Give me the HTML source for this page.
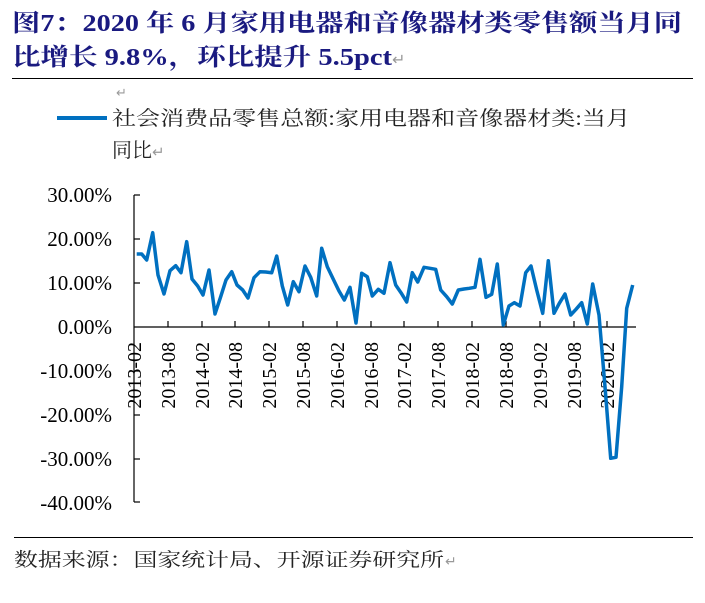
<!DOCTYPE html>
<html><head><meta charset="utf-8"><style>
body{margin:0;background:#fff;}
svg{display:block;}
</style></head><body>
<svg width="705" height="603" xmlns="http://www.w3.org/2000/svg">
<g font-family="'Liberation Serif','Noto Serif CJK SC',serif" font-weight="bold" fill="#1a1a80" font-size="24">
<text x="12" y="31" textLength="670" lengthAdjust="spacingAndGlyphs">图7：2020 年 6 月家用电器和音像器材类零售额当月同</text>
<text x="12" y="65" textLength="380" lengthAdjust="spacingAndGlyphs">比增长 9.8%，环比提升 5.5pct</text>
</g>
<text x="392" y="65" font-size="16" fill="#999" font-family="'DejaVu Sans',sans-serif">↵</text>
<line x1="12" y1="78.5" x2="693" y2="78.5" stroke="#000" stroke-width="1"/>
<text x="116" y="97" font-size="13" fill="#999" font-family="'DejaVu Sans',sans-serif">↵</text>
<line x1="57" y1="118" x2="107" y2="118" stroke="#0070c0" stroke-width="4"/>
<g font-family="'Liberation Serif','Noto Serif CJK SC',serif" font-size="20" fill="#222">
<text x="112" y="125" textLength="518" lengthAdjust="spacingAndGlyphs">社会消费品零售总额:家用电器和音像器材类:当月</text>
<text x="112" y="157">同比<tspan fill="#999" font-size="15">↵</tspan></text>
</g>
<g font-family="'Liberation Serif',serif" font-size="21" fill="#000" text-anchor="end">
<text x="112" y="202">30.00%</text>
<text x="112" y="246">20.00%</text>
<text x="112" y="290">10.00%</text>
<text x="112" y="334">0.00%</text>
<text x="112" y="378">-10.00%</text>
<text x="112" y="422">-20.00%</text>
<text x="112" y="466">-30.00%</text>
<text x="112" y="510">-40.00%</text>
</g>
<g stroke="#000" stroke-width="1.2">
<line x1="134" y1="195" x2="134" y2="502"/>
<line x1="134" y1="195" x2="140" y2="195"/>
<line x1="134" y1="239" x2="140" y2="239"/>
<line x1="134" y1="283" x2="140" y2="283"/>
<line x1="134" y1="371" x2="140" y2="371"/>
<line x1="134" y1="415" x2="140" y2="415"/>
<line x1="134" y1="459" x2="140" y2="459"/>
<line x1="134" y1="502" x2="140" y2="502"/>
<line x1="134" y1="327" x2="636" y2="327"/>
<line x1="168" y1="321" x2="168" y2="327"/><line x1="202" y1="321" x2="202" y2="327"/>
<line x1="235" y1="321" x2="235" y2="327"/><line x1="269" y1="321" x2="269" y2="327"/>
<line x1="303" y1="321" x2="303" y2="327"/><line x1="337" y1="321" x2="337" y2="327"/>
<line x1="371" y1="321" x2="371" y2="327"/><line x1="404" y1="321" x2="404" y2="327"/>
<line x1="438" y1="321" x2="438" y2="327"/><line x1="472" y1="321" x2="472" y2="327"/>
<line x1="506" y1="321" x2="506" y2="327"/><line x1="540" y1="321" x2="540" y2="327"/>
<line x1="574" y1="321" x2="574" y2="327"/><line x1="607" y1="321" x2="607" y2="327"/>
</g>
<g font-family="'Liberation Serif',serif" font-size="20" fill="#000" text-anchor="end">
<text transform="translate(141,342) rotate(-90)">2013-02</text>
<text transform="translate(175,342) rotate(-90)">2013-08</text>
<text transform="translate(209,342) rotate(-90)">2014-02</text>
<text transform="translate(242,342) rotate(-90)">2014-08</text>
<text transform="translate(276,342) rotate(-90)">2015-02</text>
<text transform="translate(310,342) rotate(-90)">2015-08</text>
<text transform="translate(344,342) rotate(-90)">2016-02</text>
<text transform="translate(378,342) rotate(-90)">2016-08</text>
<text transform="translate(411,342) rotate(-90)">2017-02</text>
<text transform="translate(445,342) rotate(-90)">2017-08</text>
<text transform="translate(479,342) rotate(-90)">2018-02</text>
<text transform="translate(513,342) rotate(-90)">2018-08</text>
<text transform="translate(547,342) rotate(-90)">2019-02</text>
<text transform="translate(581,342) rotate(-90)">2019-08</text>
<text transform="translate(614,342) rotate(-90)">2020-02</text>
</g>
<polyline fill="none" stroke="#0070c0" stroke-width="3.5" stroke-linejoin="round" points="136.7,254 141.7,254 146.7,260 152.7,232.7 158,275 164,294 170,270.7 175.7,265.7 181,272.7 186.7,241.7 192,279 197.7,286 203,295 209,270 215,314 220.7,296.7 226,280 231.7,271.7 237,285 242.7,290 248,298 254,277.7 260,271.7 265.7,272 271.7,272.7 276.7,256 282.3,286 287.7,305 293.3,281.7 299,291.7 305,266 310.7,277.3 316.7,296 321.7,248.3 327.3,266.7 333.3,279.3 339,291 344.3,300 350,287.3 356,323 361.7,273.3 367.3,276.7 372.3,296 378.3,289.3 384,293.3 390,262.7 395.7,285 401,292.7 406.7,302 412.3,272.7 417.7,282 424,267.3 430,268.3 435.7,269.3 440.7,290 446.7,296.7 452.3,304 458.3,290 464,289 469.3,288.3 475,287.3 480,259.3 486,297.3 491.7,294.3 497.3,264 503.3,325 509,306 514.3,302.7 520,306 525.7,272.7 531,266 536.7,290 542.7,313.3 548.3,260.7 554,313.3 559.3,303.3 565,294 570.7,315 576,309.3 581.7,302.7 587.3,324 592.7,284 599,315 605,386.7 610.7,458.3 616,457.3 621.7,386.7 626.7,308.3 632.7,285"/>
<line x1="14" y1="537.5" x2="693" y2="537.5" stroke="#000" stroke-width="1"/>
<text x="14" y="566" font-family="'Liberation Serif','Noto Serif CJK SC',serif" font-size="19" fill="#222" textLength="430" lengthAdjust="spacingAndGlyphs">数据来源：国家统计局、开源证券研究所</text>
<text x="445" y="566" font-size="14" fill="#999" font-family="'DejaVu Sans',sans-serif">↵</text>
</svg>
</body></html>
